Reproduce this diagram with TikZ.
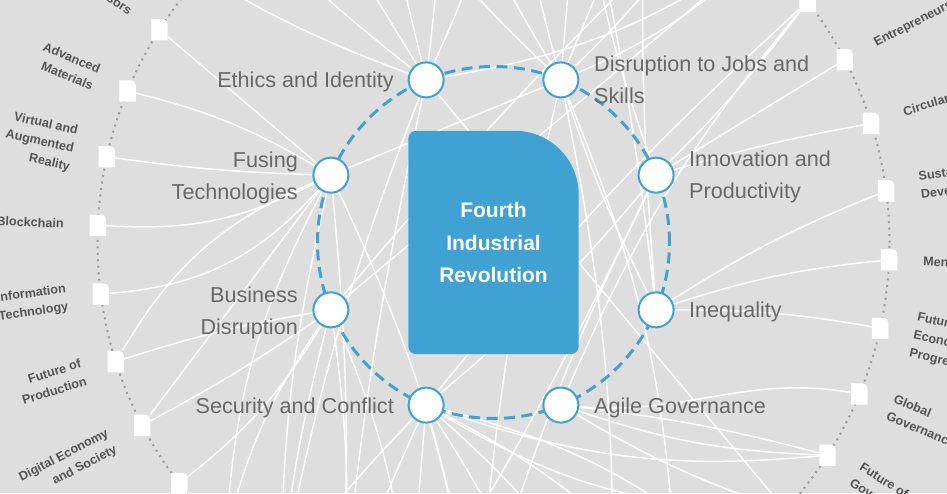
\documentclass[tikz,border=0pt]{standalone}
\usepackage{fontspec}
\setmainfont{Liberation Sans}
\usetikzlibrary{calc}
\definecolor{bgc}{RGB}{222,222,222}
\definecolor{wblue}{RGB}{64,162,211}
\definecolor{lgray}{RGB}{104,104,104}
\definecolor{dgray}{RGB}{85,85,85}
\definecolor{dotc}{RGB}{155,155,155}
\pgfdeclarelayer{bg}\pgfdeclarelayer{links}\pgfdeclarelayer{front}
\pgfsetlayers{bg,links,front,main}
\begin{document}
\begin{tikzpicture}[x=1pt,y=-1pt,
  link/.style={draw=white, line width=1.5pt},
  hub/.style={circle, fill=white, draw=wblue, line width=2pt, minimum size=35pt, inner sep=0pt},
  topic/.style={rectangle, minimum width=16pt, minimum height=21pt, inner sep=0pt},
  ilab/.style={text=lgray, font=\fontsize{21.6}{32}\selectfont, inner sep=0pt},
  olabL/.style={text=dgray, font=\bfseries\fontsize{12.6}{18.5}\selectfont, inner sep=0pt, anchor=east, align=right},
  olabR/.style={text=dgray, font=\bfseries\fontsize{12.6}{18.5}\selectfont, inner sep=0pt, anchor=west, align=left},
  corebox/.style={minimum width=170pt, minimum height=223pt, inner sep=0pt, align=center, text=white, font=\bfseries\fontsize{21}{32.5}\selectfont}
]
\useasboundingbox (0,0) rectangle (947,493);
\coordinate (c) at (493.5,242.5);
\begin{pgfonlayer}{bg}
\fill[bgc] (0,0) rectangle (947,493);
\draw[dotc, line width=2pt, dash pattern=on 2pt off 4.5pt] (c) circle[radius=396pt];
\end{pgfonlayer}

% off-screen topic positions
\foreach \a/\n in {47.5/t47,57.5/t57,67.5/t67,77.5/t77,87.5/t87,97.5/t97,107.5/t107,117.5/t117,127.5/t127,137.5/t137,-42.5/bm42,-52.5/bm52,-62.5/bm62,-72.5/bm72,-82.5/bm82,-92.5/bm92,-102.5/bm102,-112.5/bm112,-122.5/bm122,-132.5/bm132}
  \coordinate (\n) at ($(c)+(\a:396pt)$);

% visible topic squares
\foreach \a/\n in {37.5/q37,27.5/q27,17.5/q17,7.5/q7,-2.5/qm2,-12.5/qm12,-22.5/qm22,-32.5/qm32,147.5/q147,157.5/q157,167.5/q167,177.5/q177,187.5/q187,197.5/q197,207.5/q207,217.5/q217}{
  \node[topic] (\n) at ($(c)+(\a:396pt)$) {};
  \begin{pgfonlayer}{front}
  \fill[white] (\n.south west) -- (\n.north west) -- ([xshift=-5pt]\n.north east) arc[start angle=90,end angle=0,radius=5pt] -- (\n.south east) -- cycle;
  \end{pgfonlayer}
}

% dashed ring
\begin{pgfonlayer}{front}
\draw[wblue, line width=3pt, dash pattern=on 11pt off 6.5pt] (c) circle[radius=176pt];
\end{pgfonlayer}

% hubs
\foreach \a/\n in {112.5/eth,67.5/dis,22.5/inn,-22.5/ineq,-67.5/agi,-112.5/sec,-157.5/bus,157.5/fus}
  \node[hub] (\n) at ($(c)+(\a:176pt)$) {};

% centre
\node[corebox] (core) at (c) {Fourth\\Industrial\\Revolution};
\begin{pgfonlayer}{front}
\fill[wblue] ([yshift=8pt]core.south west) -- ([yshift=-8pt]core.north west) arc[start angle=180,end angle=90,radius=8pt]
  -- ([xshift=-64pt]core.north east) arc[start angle=90,end angle=0,radius=64pt]
  -- ([yshift=8pt]core.south east) arc[start angle=0,end angle=-90,radius=8pt]
  -- ([xshift=8pt]core.south west) arc[start angle=270,end angle=180,radius=8pt] -- cycle;
\end{pgfonlayer}

% hub labels
\node[ilab, anchor=east] (leth) at (394,82.2) {Ethics and Identity};
\node[ilab, anchor=west, align=left] (ldis) at (594,80) {Disruption to Jobs and\\Skills};
\node[ilab, anchor=west, align=left] (linn) at (689,177.2) {Innovation and\\Productivity};
\node[ilab, anchor=west] (lineq) at (689,312.2) {Inequality};
\node[ilab, anchor=west] (lagi) at (594,408.2) {Agile Governance};
\node[ilab, anchor=east] (lsec) at (394,408.2) {Security and Conflict};
\node[ilab, anchor=east, align=right] (lbus) at (298,313.2) {Business\\Disruption};
\node[ilab, anchor=east, align=right] (lfus) at (298,178.1) {Fusing\\Technologies};

% topic labels
\foreach \a/\t [count=\i] in {147.5/Sensors,157.5/{Advanced\\Materials},167.5/{Virtual and\\Augmented\\Reality},177.5/Blockchain,187.5/{Information\\Technology},197.5/{Future of\\Production},207.5/{Digital Economy\\and Society}}
  \node[olabL, rotate=\a-180] (ll\i) at ($(c)+(\a:430pt)$) {\t};
\foreach \a/\t [count=\i] in {27.5/Entrepreneurship,17.5/Circular Economy,7.5/{Sustainable\\Development},-2.5/Mental Health,-12.5/{Future of\\Economic\\Progress},-22.5/{Global\\Governance},-32.5/{Future of\\Government}}
  \node[olabR, rotate=\a] (lr\i) at ($(c)+(\a:430pt)$) {\t};

% connectors
\begin{pgfonlayer}{links}
\clip (0,0) rectangle (947,493);
% Fusing Technologies
\draw[link] (fus) to (q147);
\draw[link] (fus) to[bend right=8] (q157);
\draw[link] (fus) to[bend left=3] (q167);
\draw[link] (fus) to[bend left=15] (q177);
\draw[link] (fus) to[bend left=22] (q187);
\draw[link] (fus) to[bend right=18] (q197);
\draw[link] (fus) to (q207);
\draw[link] (fus) to[bend right=12] (bm132);
\draw[link] (fus) to[bend right=6] (bm122);
\draw[link] (fus) to[bend left=4] (bm112);
\draw[link] (fus) to[bend left=8] (bm92);
\draw[link] (fus) to (dis);
% Business Disruption
\draw[link] (bus) to[bend right=4] (q197);
\draw[link] (bus) to[bend left=3] (q207);
\draw[link] (bus) to[bend left=10] (q217);
\draw[link] (bus) to (t47);
\draw[link] (bus) to[bend left=3] (t57);
\draw[link] (bus) to[bend right=10] (bm132);
\draw[link] (bus) to[bend right=4] (bm122);
\draw[link] (bus) to[bend left=6] (bm112);
\draw[link] (bus) to[bend left=10] (bm102);
% Security and Conflict
\draw[link] (sec) to[bend right=4] (bm122);
\draw[link] (sec) to[bend right=2] (bm112);
\draw[link] (sec) to (bm102);
\draw[link] (sec) to[bend left=3] (bm92);
\draw[link] (sec) to[bend left=6] (bm82);
\draw[link] (sec) to[bend left=8] (bm72);
\draw[link] (sec) to[bend left=10] (bm62);
\draw[link] (sec) to[bend left=12] (bm52);
\draw[link] (sec) to[bend right=15] (bm42);
\draw[link] (sec) to[bend right=12] (qm32);
\draw[link] (sec) to[bend left=4] (q37);
\draw[link] (sec) to[bend right=5] (inn);
% Agile Governance
\draw[link] (agi) to[out=-5,in=170] (qm22);
\draw[link] (agi) to[bend right=8] (qm32);
\draw[link] (agi) to[bend left=4] (qm32);
\draw[link] (agi) to[bend left=8] (q37);
\draw[link] (agi) to[bend right=6] (bm42);
% Inequality
\draw[link] (ineq) to[bend left=5] (q7);
\draw[link] (ineq) to[bend left=6] (qm2);
\draw[link] (ineq) to[bend left=5] (qm12);
\draw[link] (ineq) to[bend left=4] (dis);
\draw[link] (ineq) to[bend right=3] (t77);
\draw[link] (ineq) to[bend left=3] (t67);
% Innovation and Productivity
\draw[link] (inn) to[bend right=4] (q37);
\draw[link] (inn) to (q27);
\draw[link] (inn) to[bend left=3] (q17);
\draw[link] (inn) to[bend left=6] (t77);
\draw[link] (inn) to[bend right=5] (bm92);
\draw[link] (inn) to[bend left=3] (bm102);
% Ethics and Identity
\draw[link] (eth) to[bend left=5] (t137);
\draw[link] (eth) to[bend left=3] (t127);
\draw[link] (eth) to (t117);
\draw[link] (eth) to (t107);
\draw[link] (eth) to[bend right=3] (t97);
\draw[link] (eth) to[bend right=5] (t87);
\draw[link] (eth) to[bend right=12] (t47);
\draw[link] (eth) to (bm42);
\draw[link] (eth) to[bend right=3] (bm112);
\draw[link] (eth) to[bend right=5] (bm122);
% Disruption to Jobs and Skills
\draw[link] (dis) to[bend right=10] (t47);
\draw[link] (dis) to[bend right=6] (t57);
\draw[link] (dis) to (t67);
\draw[link] (dis) to (t77);
\draw[link] (dis) to[bend left=3] (t87);
\draw[link] (dis) to[bend left=4] (t97);
\draw[link] (dis) to[bend left=6] (t107);
\draw[link] (dis) to[bend left=10] (bm62);
\draw[link] (dis) to[bend left=6] (bm72);
\draw[link] (dis) to[bend right=4] (bm92);
\end{pgfonlayer}
\end{tikzpicture}
\end{document}
